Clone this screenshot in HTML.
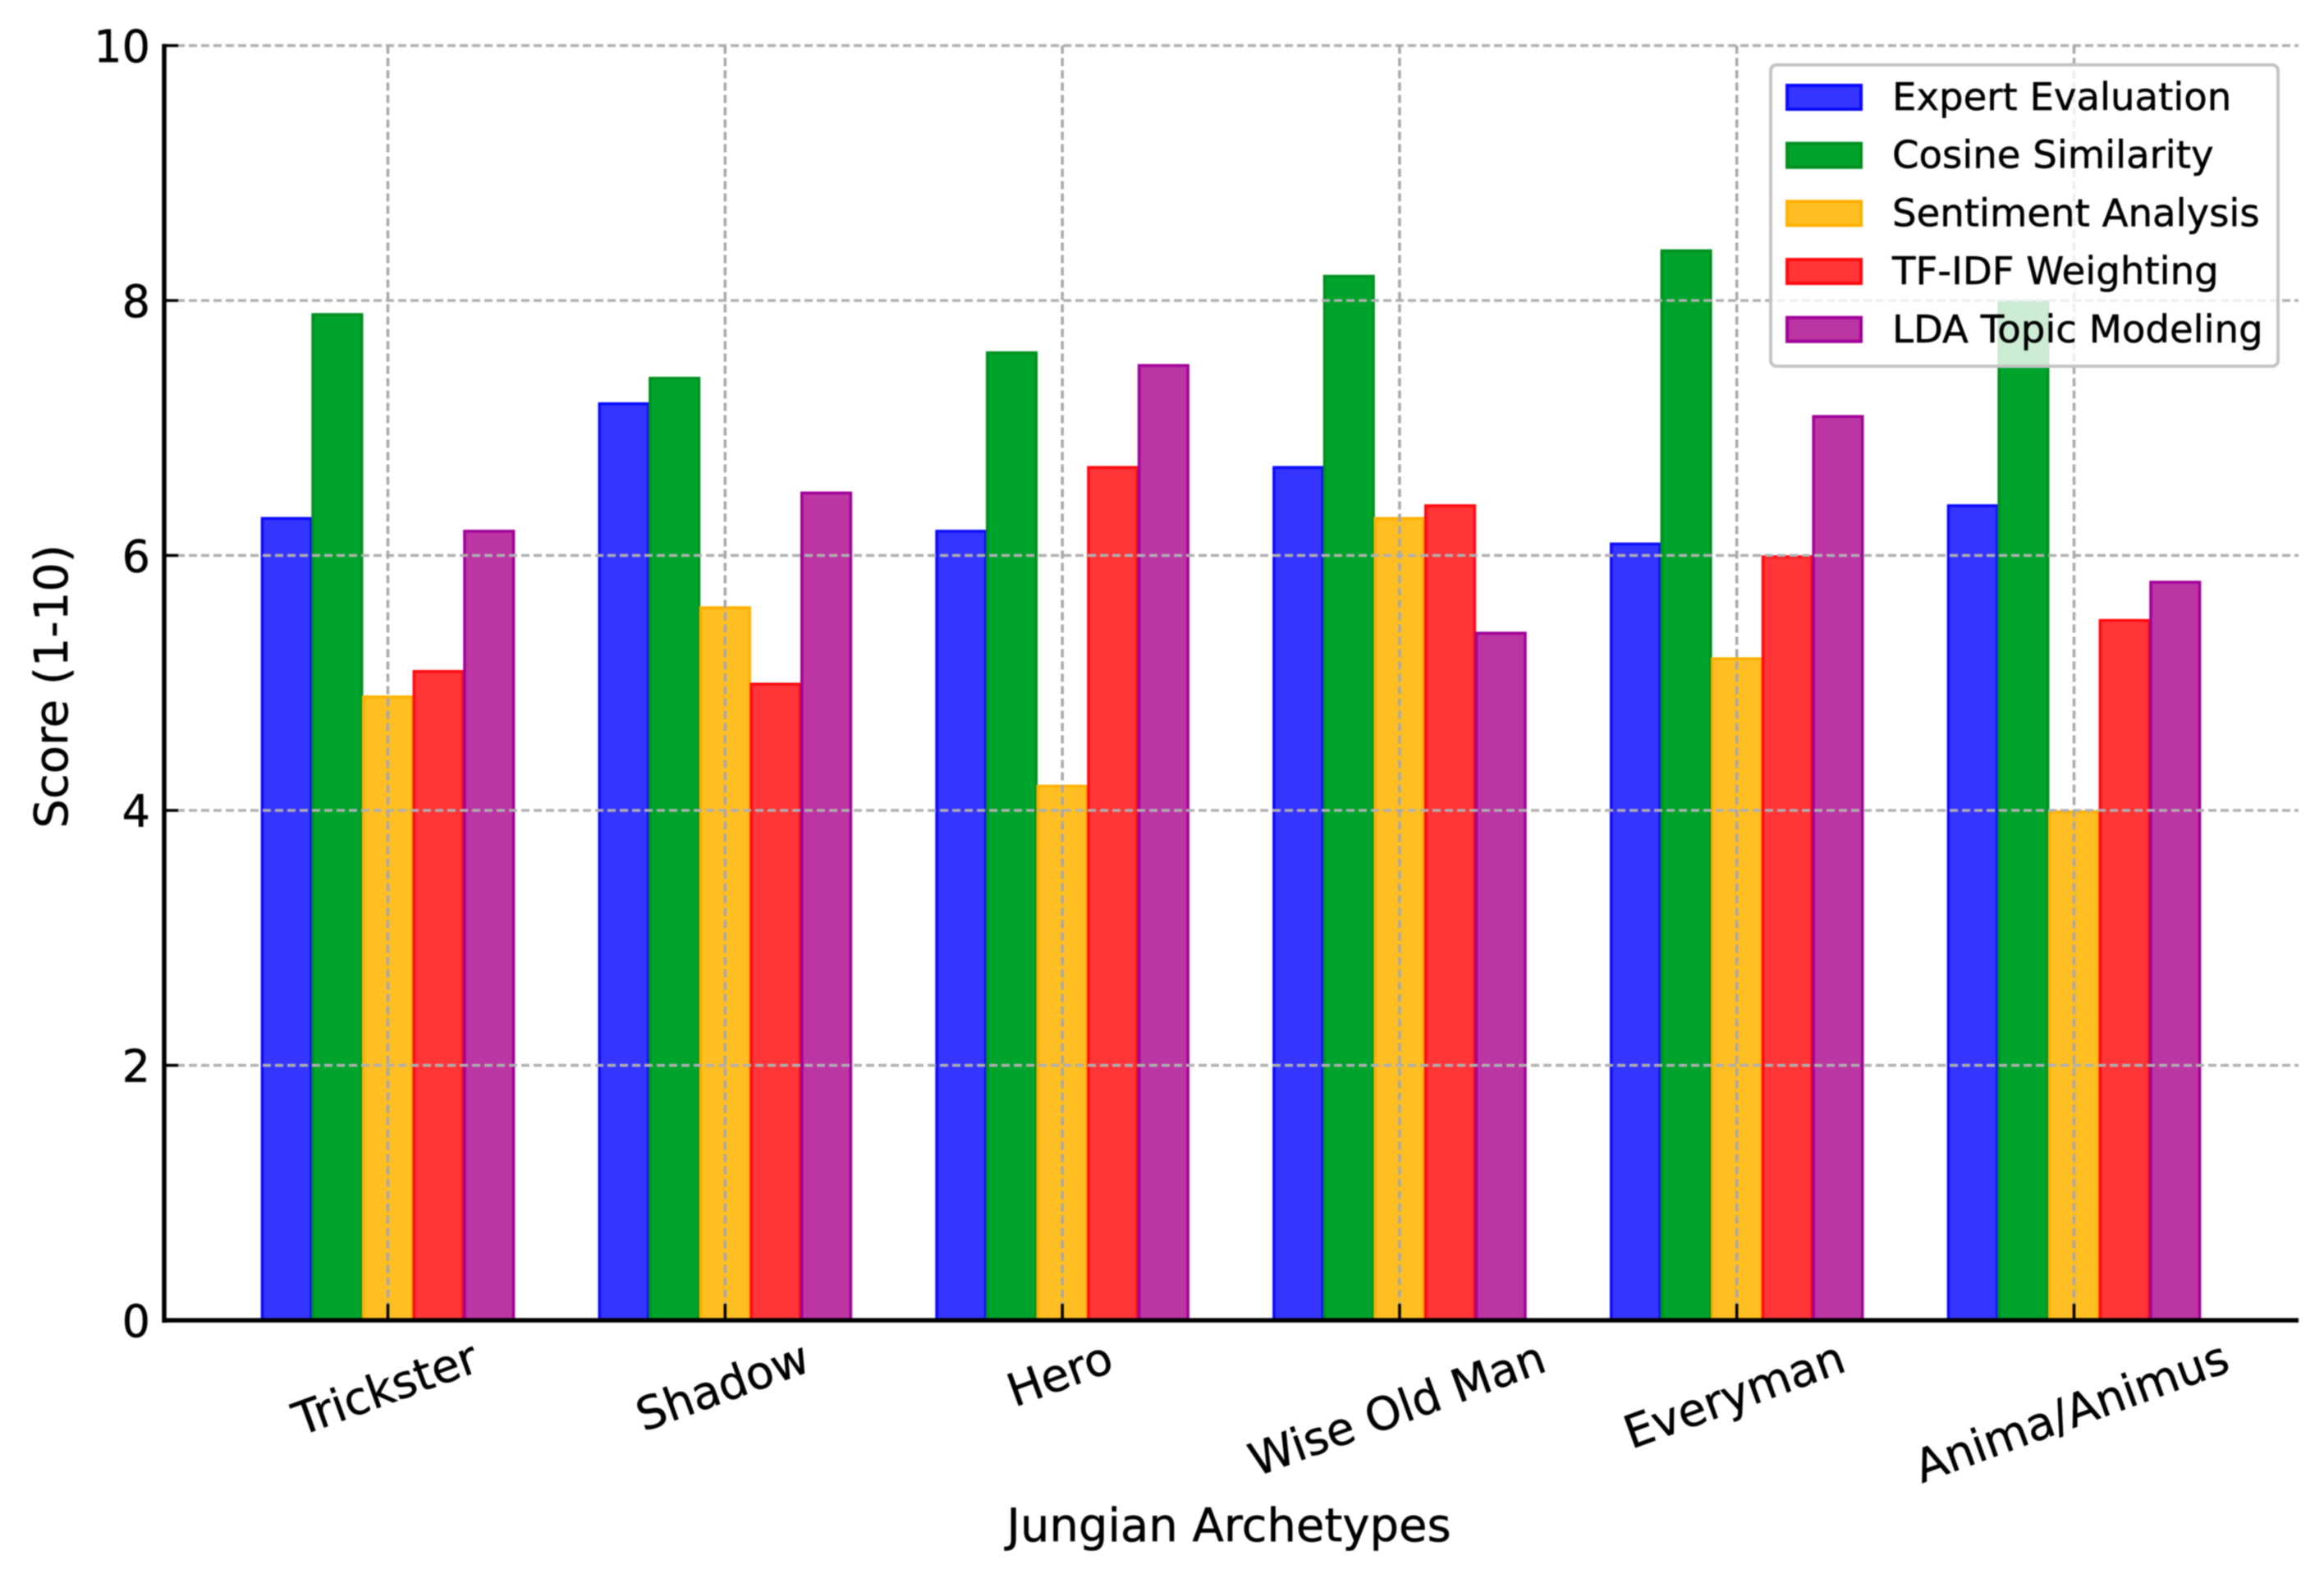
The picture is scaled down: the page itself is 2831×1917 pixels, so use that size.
<!DOCTYPE html>
<html lang="en">
<head>
<meta charset="utf-8">
<title>Jungian Archetypes Scores</title>
<style>
html,body{margin:0;padding:0;background:#fff;width:2831px;height:1917px;overflow:hidden}
svg{display:block;filter:blur(0.8px)}
text{font-family:"DejaVu Sans","Liberation Sans",sans-serif;fill:#000;stroke:#000;stroke-width:0.5px}
</style>
</head>
<body>
<svg id="chart" xmlns="http://www.w3.org/2000/svg" width="2831" height="1917" viewBox="0 0 2831 1917">
<rect x="0" y="0" width="2831" height="1917" fill="#fff"/>
</svg>
<script>
const categories = ["Trickster", "Shadow", "Hero", "Wise Old Man", "Everyman", "Anima/Animus"];
const seriesNames = ["Expert Evaluation", "Cosine Similarity", "Sentiment Analysis", "TF-IDF Weighting", "LDA Topic Modeling"];
const expertEvaluation = [6.3, 7.2, 6.2, 6.7, 6.1, 6.4];
const cosineSimilarity = [7.9, 7.4, 7.6, 8.2, 8.4, 8.0];
const sentimentAnalysis = [4.9, 5.6, 4.2, 6.3, 5.2, 4.0];
const tfidfWeighting = [5.1, 5.0, 6.7, 6.4, 6.0, 5.5];
const ldaTopicModeling = [6.2, 6.5, 7.5, 5.4, 7.1, 5.8];
const yTicks = [0, 2, 4, 6, 8, 10];

const allSeries = [expertEvaluation, cosineSimilarity, sentimentAnalysis, tfidfWeighting, ldaTopicModeling];
const fills = ["#3535ff", "#00a32c", "#ffbe22", "#ff3538", "#bb35a3"];
const edges = ["#0a0aff", "#009020", "#ffb000", "#ff0a10", "#a00098"];

const svg = document.getElementById("chart");
const NS = "http://www.w3.org/2000/svg";
const plotLeft = 200, plotRight = 2800, plotTop = 55.5, plotBottom = 1608;
const xStart = 472.5, xStep = 410.8, barShare = 0.15;

function xAxis(i) { return xStart + i * xStep; }
function yAxis(v) { return plotBottom - (v / 10) * (plotBottom - plotTop); }

function makeLine(x1, y1, x2, y2, color, width, dash) {
  const el = document.createElementNS(NS, "line");
  el.setAttribute("x1", x1);
  el.setAttribute("y1", y1);
  el.setAttribute("x2", x2);
  el.setAttribute("y2", y2);
  el.setAttribute("stroke", color);
  el.setAttribute("stroke-width", width);
  if (dash) el.setAttribute("stroke-dasharray", dash);
  svg.appendChild(el);
  return el;
}

function makeText(str, x, y, size, anchor) {
  const el = document.createElementNS(NS, "text");
  el.textContent = str;
  el.setAttribute("x", x);
  el.setAttribute("y", y);
  el.setAttribute("font-size", size);
  el.setAttribute("text-anchor", anchor);
  svg.appendChild(el);
  return el;
}

const barWidth = xStep * barShare;

allSeries.forEach(function (values, s) {
  values.forEach(function (v, c) {
    const x = xAxis(c) + (s - 2.5) * barWidth;
    const y = yAxis(v) + 1.5;
    const bar = document.createElementNS(NS, "rect");
    bar.setAttribute("x", x + 1);
    bar.setAttribute("y", y);
    bar.setAttribute("width", barWidth - 2);
    bar.setAttribute("height", plotBottom - y);
    bar.setAttribute("fill", fills[s]);
    bar.setAttribute("stroke", edges[s]);
    bar.setAttribute("stroke-width", 3.5);
    
    
    svg.appendChild(bar);
  });
});

yTicks.forEach(function (t) {
  if (t === 0) return;
  const g = makeLine(plotLeft, yAxis(t), plotRight, yAxis(t), "#b0b0b0", 3.5, "10 5");
  
  
});

categories.forEach(function (name, i) {
  const g = makeLine(xAxis(i), plotTop, xAxis(i), plotBottom, "#a8a8a8", 3.5, "10 5");
  
  
});

yTicks.forEach(function (t) {
  const tick = makeLine(plotLeft, yAxis(t), plotLeft + 17, yAxis(t), "#000", 3.5);
  
  
  const label = makeText(String(t), 183, yAxis(t) + 20, 54, "end");
  
  
});

categories.forEach(function (name, i) {
  const tick = makeLine(xAxis(i), plotBottom - 20, xAxis(i), plotBottom, "#000", 3.5);
  
  
  const label = makeText(name, xAxis(i) - 3, 0, 55.5, "middle");
  
  
  const a = 20 * Math.PI / 180;
  const len = label.getComputedTextLength();
  const cy = 1625 + (len * Math.sin(a) + 55.5 * Math.cos(a)) / 2;
  label.setAttribute("y", cy + 19);
  label.setAttribute("transform", "rotate(-20 " + (xAxis(i) - 3) + " " + cy + ")");
});

const spineLeft = makeLine(plotLeft, plotTop - 2, plotLeft, plotBottom + 3, "#000", 5.5);



const spineBottom = makeLine(plotLeft - 2, plotBottom, plotRight, plotBottom, "#000", 5.5);



const xTitle = makeText("Jungian Archetypes", 1497, 1877, 56, "middle");



const yTitle = makeText("Score (1-10)", 0, 0, 56, "middle");
yTitle.setAttribute("transform", "translate(82 836) rotate(-90)");



const legendBox = document.createElementNS(NS, "rect");
legendBox.setAttribute("x", 2157);
legendBox.setAttribute("y", 79);
legendBox.setAttribute("width", 618);
legendBox.setAttribute("height", 367);
legendBox.setAttribute("rx", 7);
legendBox.setAttribute("fill", "#fff");
legendBox.setAttribute("fill-opacity", "0.8");
legendBox.setAttribute("stroke", "#c4c4c4");
legendBox.setAttribute("stroke-width", 4);


svg.appendChild(legendBox);

seriesNames.forEach(function (name, s) {
  const top = 104 + s * 70.7;
  const swatch = document.createElementNS(NS, "rect");
  swatch.setAttribute("x", 2177);
  swatch.setAttribute("y", top);
  swatch.setAttribute("width", 90);
  swatch.setAttribute("height", 29);
  swatch.setAttribute("fill", fills[s]);
  swatch.setAttribute("stroke", edges[s]);
  swatch.setAttribute("stroke-width", 4);
  
  
  svg.appendChild(swatch);
  const label = makeText(name, 2305, top + 30, 46.6, "start");
  
  
});
</script>
</body>
</html>
